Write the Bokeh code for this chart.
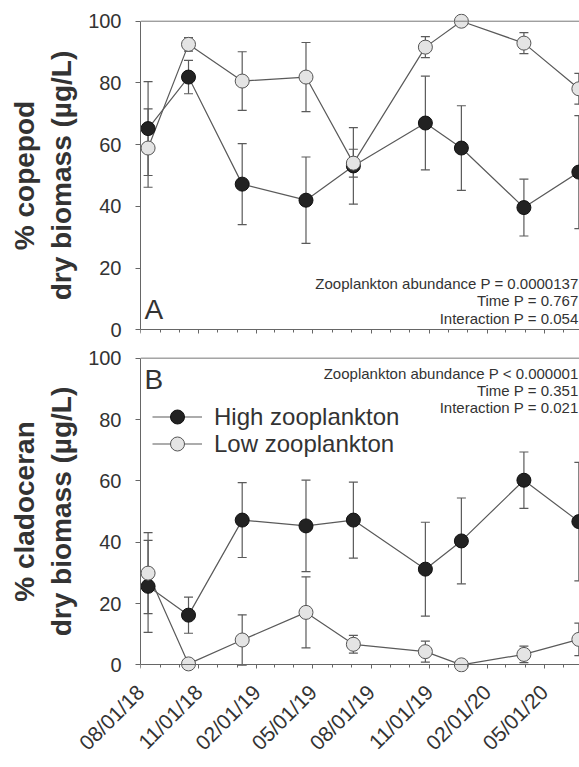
import math
import pandas as pd
from bokeh.plotting import figure
from bokeh.layouts import column
from bokeh.models import (Range1d, FixedTicker, DatetimeTickFormatter, Whisker, TeeHead,
                          ColumnDataSource, Span, Label, Legend, LegendItem, DatetimeAxis)
from bokeh.embed import file_html
from bokeh.resources import INLINE

# ---------------- data ----------------
dates = ["2018-08-13", "2018-10-16", "2019-01-09", "2019-04-20", "2019-07-04",
         "2019-10-26", "2019-12-22", "2020-03-30", "2020-06-25"]

copepod_high = [65.2, 81.9, 47.2, 42.0, 53.1, 67.0, 58.9, 39.6, 51.1]
copepod_high_err = [15.2, 5.4, 13.1, 14.0, 12.4, 15.2, 13.7, 9.2, 18.3]
copepod_low = [58.9, 92.5, 80.6, 81.9, 54.0, 91.6, 100.0, 92.9, 78.1]
copepod_low_err = [12.7, 2.2, 9.5, 11.2, 4.5, 3.4, 0.0, 3.4, 5.0]

clad_high = [25.6, 16.2, 47.2, 45.3, 47.2, 31.2, 40.4, 60.2, 46.7]
clad_high_err = [15.0, 5.9, 12.2, 14.9, 12.4, 15.3, 14.0, 9.2, 19.3]
clad_low = [29.9, 0.3, 8.1, 17.1, 6.7, 4.3, 0.0, 3.4, 8.3]
clad_low_err = [13.2, 0.0, 8.2, 11.6, 2.9, 3.4, 0.0, 2.7, 5.3]

major_ticks = ["2018-08-01", "2018-11-01", "2019-02-01", "2019-05-01", "2019-08-01",
               "2019-11-01", "2020-02-01", "2020-05-01"]
y_ticks = [0, 20, 40, 60, 80, 100]

stats_a = ["Zooplankton abundance P = 0.0000137", "Time P = 0.767", "Interaction P = 0.054"]
stats_b = ["Zooplankton abundance P < 0.000001", "Time P = 0.351", "Interaction P = 0.021"]

# ---------------- helpers ----------------
FONT = "Liberation Sans"
TXT = "#333333"
GRAY = "#5a5a5a"
AX = "#666666"


def ms(s):
    return pd.Timestamp(s).timestamp() * 1000.0


major_ms = [ms(d) for d in major_ticks]
minor_ms = [t.timestamp() * 1000.0 for t in pd.date_range("2018-08-01", "2020-06-01", freq="MS")]

x_start = ms("2018-08-01")
x_end = ms("2020-06-26")
xr = Range1d(start=x_start, end=x_end)
xdates = pd.to_datetime(dates)
FMT = "%m/%d/%y"


def make_formatter():
    return DatetimeTickFormatter(milliseconds=FMT, seconds=FMT, minsec=FMT, minutes=FMT,
                                 hourmin=FMT, hours=FMT, days=FMT, months=FMT, years=FMT)


def make_fig(height, btop, bbottom, ylabel):
    p = figure(width=579, height=height, x_axis_type="datetime", x_range=xr,
               y_range=Range1d(-2.5, 102.5), output_backend="svg", toolbar_location=None,
               min_border_left=140, min_border_right=0, min_border_top=btop,
               min_border_bottom=bbottom)
    p.outline_line_color = None
    p.xgrid.grid_line_color = None
    p.ygrid.grid_line_color = None
    p.background_fill_color = "white"

    ya = p.yaxis[0]
    ya.bounds = (0, 100)
    ya.ticker = FixedTicker(ticks=y_ticks)
    ya.major_tick_out = 5
    ya.major_tick_in = 0
    ya.minor_tick_out = 0
    ya.minor_tick_in = 0
    ya.axis_line_color = AX
    ya.major_tick_line_color = AX
    ya.major_label_standoff = 14
    ya.major_label_text_font = FONT
    ya.major_label_text_font_size = "20px"
    ya.major_label_text_color = TXT
    ya.axis_label = ylabel
    ya.axis_label_text_font = FONT
    ya.axis_label_text_font_style = "bold"
    ya.axis_label_text_font_size = "28px"
    ya.axis_label_text_color = TXT
    ya.axis_label_standoff = 8

    # axis line + ticks drawn at y = 0 (no labels)
    xa = p.xaxis[0]
    xa.ticker = FixedTicker(ticks=major_ms, minor_ticks=minor_ms)
    xa.fixed_location = 0
    xa.major_tick_out = 4
    xa.major_tick_in = 0
    xa.minor_tick_out = 3
    xa.minor_tick_in = 0
    xa.axis_line_color = AX
    xa.major_tick_line_color = AX
    xa.minor_tick_line_color = AX
    xa.formatter = make_formatter()
    xa.major_label_overrides = {t: "" for t in major_ms}
    xa.major_label_text_font_size = "1px"
    xa.major_label_standoff = 0

    p.add_layout(Span(location=100, dimension="width", line_color="#777777", line_width=1))
    return p


def add_series(p, high, high_err, low, low_err):
    src_h = ColumnDataSource(dict(x=xdates, y=high,
                                  lo=[v - e for v, e in zip(high, high_err)],
                                  hi=[v + e for v, e in zip(high, high_err)]))
    src_l = ColumnDataSource(dict(x=xdates, y=low,
                                  lo=[v - e for v, e in zip(low, low_err)],
                                  hi=[v + e for v, e in zip(low, low_err)]))
    for src in (src_h, src_l):
        w = Whisker(base="x", upper="hi", lower="lo", source=src, dimension="height",
                    line_color=GRAY, line_width=1.2, level="underlay",
                    upper_head=TeeHead(size=9, line_color=GRAY, line_width=1.2),
                    lower_head=TeeHead(size=9, line_color=GRAY, line_width=1.2))
        p.add_layout(w)
    lh = p.line("x", "y", source=src_h, line_color=GRAY, line_width=1.2)
    ll = p.line("x", "y", source=src_l, line_color=GRAY, line_width=1.2)
    sh = p.scatter("x", "y", source=src_h, size=14, fill_color="#222222",
                   line_color="#111111", line_width=1)
    sl = p.scatter("x", "y", source=src_l, size=14, fill_color="#e4e4e4",
                   line_color="#555555", line_width=1)
    return lh, sh, ll, sl


def add_stats(p, texts, ys):
    for txt, yv in zip(texts, ys):
        p.add_layout(Label(x=x_end, y=yv, text=txt, text_align="right", text_baseline="middle",
                           x_offset=-1, text_font=FONT, text_font_size="15px", text_color=TXT))


# ---------------- panel A ----------------
pa = make_fig(343, 13, 6, "% copepod\ndry biomass (µg/L)")
add_series(pa, copepod_high, copepod_high_err, copepod_low, copepod_low_err)
add_stats(pa, stats_a, [15.1, 9.4, 3.8])
pa.add_layout(Label(x=x_start, y=6.6, text="A", x_offset=4, text_align="left",
                    text_baseline="middle", text_font=FONT, text_font_size="28px",
                    text_color=TXT))

# ---------------- panel B ----------------
pb = make_fig(422, 7, 92, "% cladoceran\ndry biomass (µg/L)")
lh, sh, ll, sl = add_series(pb, clad_high, clad_high_err, clad_low, clad_low_err)
add_stats(pb, stats_b, [94.9, 89.4, 84.0])
pb.add_layout(Label(x=x_start, y=93.1, text="B", x_offset=4, text_align="left",
                    text_baseline="middle", text_font=FONT, text_font_size="28px",
                    text_color=TXT))

# date labels (second axis, labels only)
lab_axis = DatetimeAxis(ticker=FixedTicker(ticks=major_ms), formatter=make_formatter(),
                        axis_line_color=None, major_tick_line_color=None,
                        minor_tick_line_color=None, major_tick_out=0, major_tick_in=0,
                        minor_tick_out=0, minor_tick_in=0,
                        major_label_orientation=math.pi / 4, major_label_standoff=16,
                        major_label_text_font=FONT, major_label_text_font_size="21px",
                        major_label_text_color=TXT)
pb.add_layout(lab_axis, "below")

for item, yloc in [(LegendItem(label="High zooplankton", renderers=[lh, sh]), 238),
                   (LegendItem(label="Low zooplankton", renderers=[ll, sl]), 211)]:
    lg = Legend(items=[item], location=(12, yloc), glyph_width=50, glyph_height=35,
                label_height=26, label_standoff=12, padding=0, margin=0,
                border_line_color=None, background_fill_alpha=0,
                label_text_font=FONT, label_text_font_size="24px", label_text_color=TXT)
    pb.add_layout(lg)

layout = column(pa, pb, spacing=0)
open("out.html", "w").write(file_html(layout, INLINE))
